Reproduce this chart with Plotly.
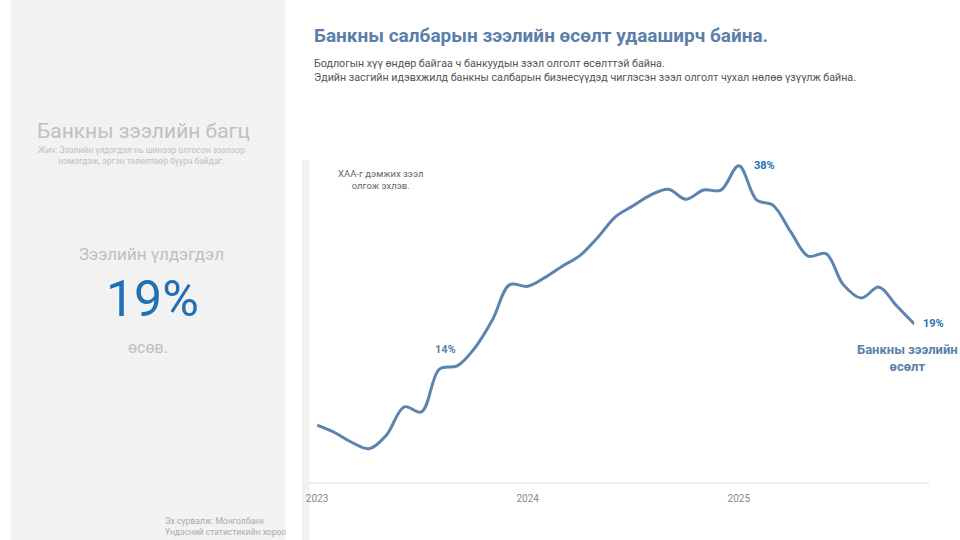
import plotly.graph_objects as go

# ---- data ----
months = [f"{y}-{m:02d}-01" for y in (2023, 2024, 2025) for m in range(1, 13)][:35]
growth = [6.9, 6.0, 4.9, 4.1, 5.7, 9.1, 8.5, 13.6, 14.0, 16.1, 19.5, 23.7,
          23.5, 24.6, 25.9, 27.2, 29.3, 31.8, 33.1, 34.4, 35.1, 33.9, 35.0, 35.0,
          37.9, 33.8, 33.2, 30.0, 27.1, 27.4, 23.7, 22.1, 23.4, 21.2, 19.0]
tick_vals = ["2023-01-01", "2024-01-01", "2025-01-01"]
tick_text = ["2023", "2024", "2025"]

title = "Банкны салбарын зээлийн өсөлт удааширч байна."
subtitle = ("Бодлогын хүү өндөр байгаа ч банкуудын зээл олголт өсөлттэй байна.<br>"
            "Эдийн засгийн идэвхжилд банкны салбарын бизнесүүдэд чиглэсэн зээл олголт чухал нөлөө үзүүлж байна.")

W, H = 960, 540
OFF, SC = 15.0, 0.985   # observed page-to-picture mapping in x

def px(x):
    # target picture x (pixels) -> paper fraction
    return max(0.0, (x - OFF) / SC) / W
def py(y):
    return (H - y) / H

LINE = "#5b84b1"
BLUE = "#1f70b5"
STEEL = "#5b7fa8"
FONT = "Roboto"

fig = go.Figure()
fig.add_trace(go.Scatter(
    x=months, y=growth, mode="lines",
    line=dict(color=LINE, width=3, shape="spline", smoothing=1.0),
    hoverinfo="skip", showlegend=False,
))

fig.add_annotation(x=months[8], y=growth[8], text="<b>14%</b>", showarrow=False,
                   xanchor="center", yanchor="bottom", yshift=8, xshift=-12,
                   font=dict(family=FONT, size=11, color=STEEL))
fig.add_annotation(x=months[24], y=growth[24], text="<b>38%</b>", showarrow=False,
                   xanchor="left", yanchor="middle", xshift=13,
                   font=dict(family=FONT, size=11, color=BLUE))
fig.add_annotation(x=months[-1], y=growth[-1], text="<b>19%</b>", showarrow=False,
                   xanchor="left", yanchor="middle", xshift=7,
                   font=dict(family=FONT, size=11, color=BLUE))

annos = [
    dict(x=px(315), y=py(36), text=f"<b>{title}</b>", xanchor="left", yanchor="middle",
         font=dict(family=FONT, size=19, color=STEEL)),
    dict(x=px(315), y=py(70), text=subtitle, xanchor="left", yanchor="middle", align="left",
         font=dict(family=FONT, size=10.7, color="#555555")),
    dict(x=px(147), y=py(131), text="Банкны зээлийн багц", xanchor="center", yanchor="middle",
         font=dict(family=FONT, size=21, color="#c0c0c0")),
    dict(x=px(145), y=py(155), text="Жич: Зээлийн үлдэгдэл нь шинээр олгосон зээлээр<br>нэмэгдэж, эргэн төлөлтөөр буурч байдаг.",
         xanchor="center", yanchor="middle", align="center",
         font=dict(family=FONT, size=8.5, color="#c0c0c0")),
    dict(x=px(155), y=py(254), text="Зээлийн үлдэгдэл", xanchor="center", yanchor="middle",
         font=dict(family=FONT, size=17, color="#c0c0c0")),
    dict(x=px(156), y=py(299), text="19%", xanchor="center", yanchor="middle",
         font=dict(family=FONT, size=50, color=BLUE)),
    dict(x=px(152), y=py(347), text="өсөв.", xanchor="center", yanchor="middle",
         font=dict(family=FONT, size=16, color="#c0c0c0")),
    dict(x=px(166), y=py(526), text="Эх сурвалж: Монголбанк<br>Үндэсний статистикийн хороо",
         xanchor="left", yanchor="middle", align="left",
         font=dict(family=FONT, size=8.5, color="#aaaaaa")),
    dict(x=px(384), y=py(179), text="ХАА-г дэмжих зээл<br>олгож эхлэв.", xanchor="center",
         yanchor="middle", align="center",
         font=dict(family=FONT, size=9.5, color="#666666")),
    dict(x=px(908), y=py(358), text="<b>Банкны зээлийн<br>өсөлт</b>", xanchor="center",
         yanchor="middle", align="center",
         font=dict(family=FONT, size=13, color=STEEL)),
]
for a in annos:
    a.update(xref="paper", yref="paper", showarrow=False)
    fig.add_annotation(**a)

shapes = [
    dict(type="rect", xref="paper", yref="paper", x0=0, x1=px(288), y0=0, y1=1,
         fillcolor="#f2f2f2", line=dict(width=0), layer="below"),
    dict(type="rect", xref="paper", yref="paper", x0=px(305), x1=px(312.5), y0=py(540), y1=py(160),
         fillcolor="#f2f2f2", line=dict(width=0), layer="below"),
    dict(type="line", xref="paper", yref="paper", x0=px(312), x1=px(930), y0=py(483), y1=py(483),
         line=dict(color="#dddddd", width=1), layer="below"),
]

fig.update_layout(
    width=W, height=H, autosize=False,
    margin=dict(l=0, r=0, t=0, b=0, pad=0),
    paper_bgcolor="white", plot_bgcolor="rgba(0,0,0,0)",
    shapes=shapes,
    showlegend=False,
    font=dict(family=FONT),
    xaxis=dict(
        domain=[px(320), px(915)],
        range=[months[0], months[-1]],
        type="date",
        tickvals=tick_vals, ticktext=tick_text,
        showgrid=False, zeroline=False, showline=False,
        ticks="", tickfont=dict(family=FONT, size=10, color="#888888"),
        ticklabelstandoff=8,
    ),
    yaxis=dict(
        domain=[py(483), py(148.2)],
        range=[0, 40],
        visible=False,
    ),
)

css = ("var s=document.createElement('style');"
       "s.textContent='html,body{margin:0!important;padding:0!important;overflow:hidden!important;background:#f2f2f2}';"
       "document.head.appendChild(s);")
fig.write_html(
    "out.html",
    config={"displayModeBar": False},
    post_script=css,
)
